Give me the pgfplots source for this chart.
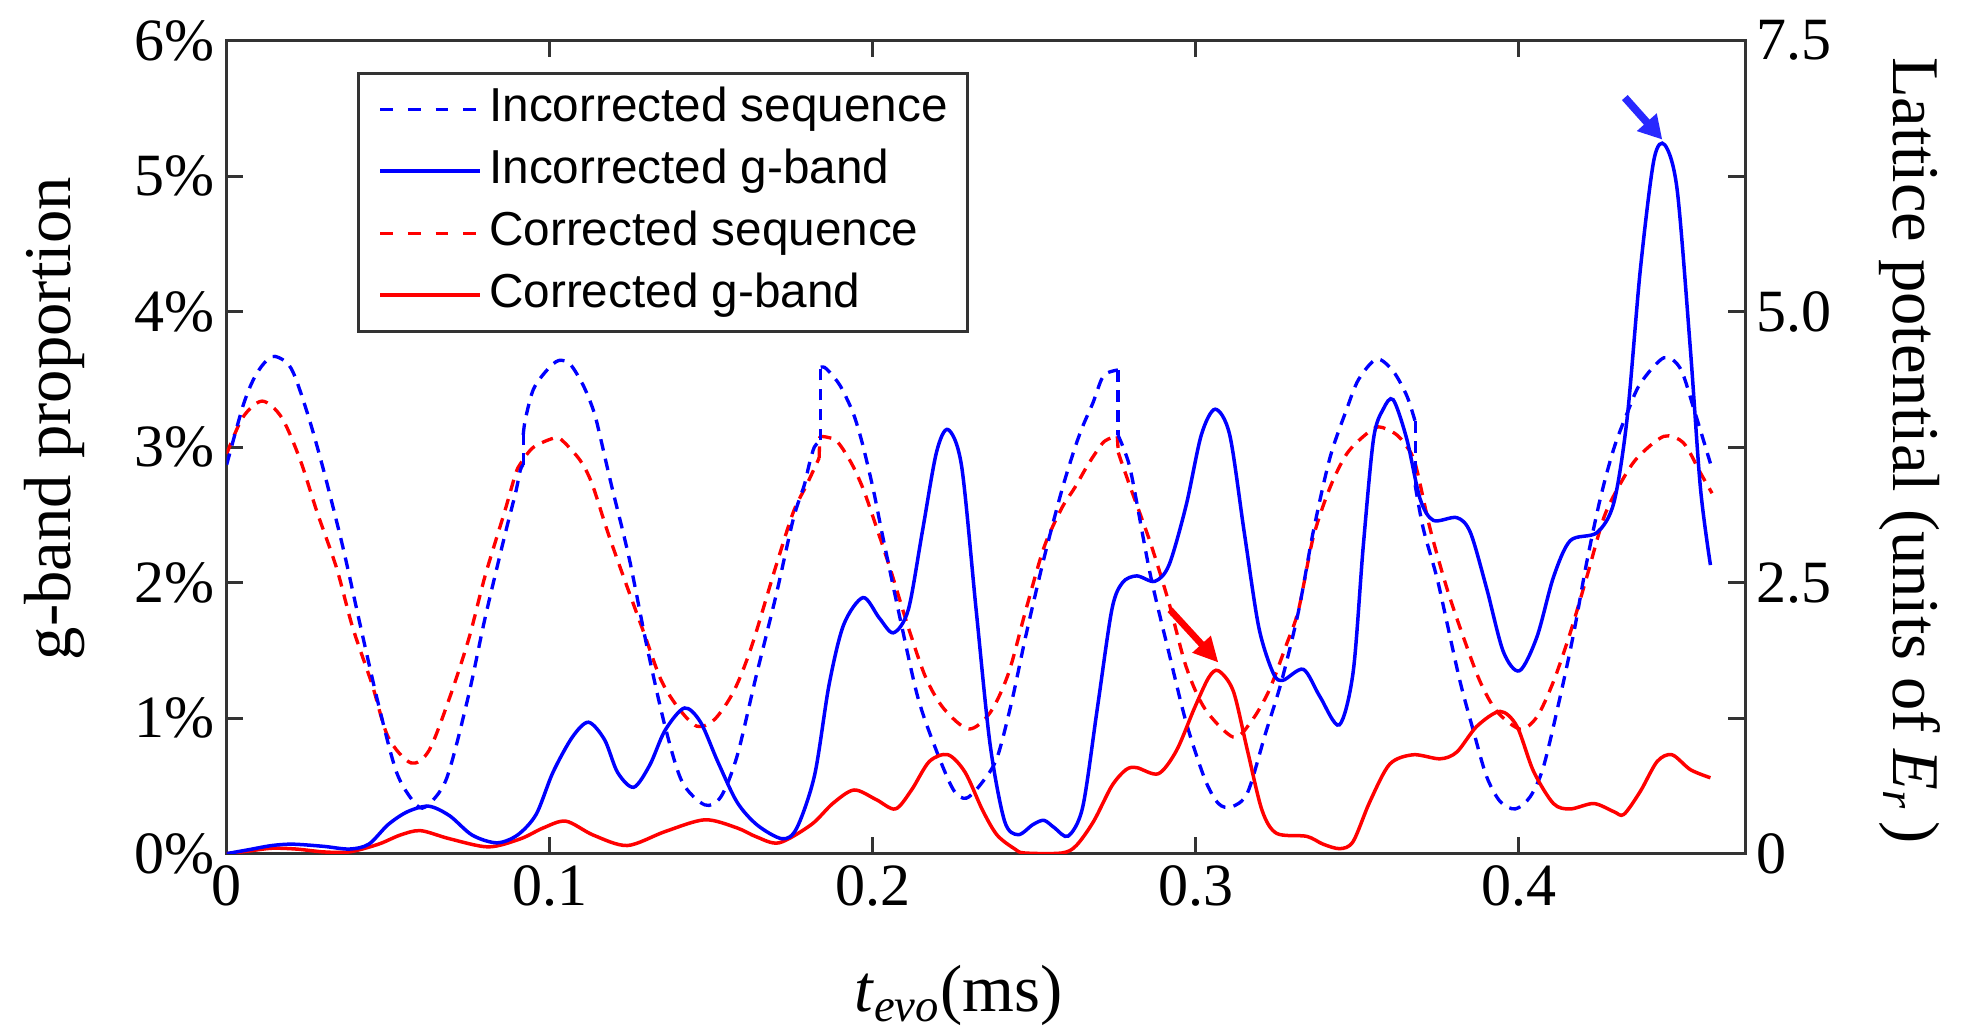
\documentclass[border=0pt]{standalone}
\usepackage{fontspec}
\setmainfont{Liberation Serif}
\newfontfamily\legendfont{Liberation Sans}
\usepackage{pgfplots}
\pgfplotsset{compat=1.18}
\usetikzlibrary{arrows.meta}
\definecolor{axgray}{RGB}{51,51,51}
\definecolor{arrowblue}{RGB}{40,40,255}
\pgfplotsset{
  bdash/.style={blue, line width=1pt, dash pattern=on 3.5pt off 2.5pt, smooth, tension=0.5, forget plot},
  rdash/.style={red, line width=1pt, dash pattern=on 3.5pt off 2.5pt, smooth, tension=0.5, forget plot},
  bvert/.style={blue, line width=1pt, dash pattern=on 3.5pt off 2.5pt, forget plot},
  rvert/.style={red, line width=1pt, dash pattern=on 3.5pt off 2.5pt, forget plot},
  bsol/.style={blue, line width=1.05pt, smooth, tension=0.5, forget plot},
  rsol/.style={red, line width=1.05pt, smooth, tension=0.5, forget plot},
}
\begin{document}
\begin{tikzpicture}
\useasboundingbox (-68.0pt,-54.4pt) rectangle (523.9pt,256.1pt);
\begin{axis}[
  at={(0,0)}, anchor=south west,
  width=455.5pt, height=243.9pt, scale only axis,
  xmin=0, xmax=0.47, ymin=0, ymax=6,
  axis line style={axgray, line width=0.9pt},
  every tick/.style={axgray, line width=0.9pt},
  major tick length=5pt,
  xtick={0,0.1,0.2,0.3,0.4}, xticklabels={0,0.1,0.2,0.3,0.4},
  ytick={0,1,2,3,4,5,6}, yticklabels={0\%,1\%,2\%,3\%,4\%,5\%,6\%},
  tick label style={font=\fontsize{18}{20}\selectfont},
  xlabel={\textit{t}\textsubscript{\textit{evo}}(ms)},
  ylabel={g-band proportion},
  label style={font=\fontsize{20}{24}\selectfont},
  xlabel style={at={(axis description cs:0.482,-0.1743)}, anchor=center},
  ylabel style={at={(axis description cs:-0.1131,0.535)}, anchor=center},
  legend cell align=left,
  legend image code/.code={\draw[#1] (0pt,0pt) -- (30pt,0pt);},
  legend style={at={(axis description cs:0.0858,0.962)}, anchor=north west,
    draw=axgray, line width=0.9pt,
    font=\legendfont\fontsize{14.3}{17}\selectfont,
    inner xsep=6pt, inner ysep=3.6pt, row sep=4.1pt, column sep=2.2pt,
    nodes={inner sep=0pt, text height=11pt, text depth=3.5pt}},
]
\addlegendimage{blue, line width=1pt, dash pattern=on 3.8pt off 4.5pt}
\addlegendentry{Incorrected sequence}
\addlegendimage{blue, line width=1.05pt}
\addlegendentry{Incorrected g-band}
\addlegendimage{red, line width=1pt, dash pattern=on 3.8pt off 4.5pt}
\addlegendentry{Corrected sequence}
\addlegendimage{red, line width=1.05pt}
\addlegendentry{Corrected g-band}

% Corrected sequence (red dashed)
\addplot[rdash] coordinates {(0,2.95)(0.005,3.22)(0.011,3.34)(0.017,3.22)(0.0227,2.91)(0.028,2.52)(0.034,2.11)(0.039,1.67)(0.045,1.25)(0.050,0.86)(0.057,0.67)(0.0626,0.76)(0.069,1.15)(0.075,1.59)(0.080,2.05)(0.086,2.52)(0.0894,2.80)(0.091,2.88)(0.095,3.00)(0.1018,3.07)(0.1043,3.04)(0.1095,2.90)(0.1131,2.73)(0.118,2.37)(0.1235,2.00)(0.129,1.64)(0.1345,1.28)(0.140,1.07)(0.1456,0.94)(0.151,0.99)(0.157,1.20)(0.1625,1.53)(0.170,2.12)(0.1754,2.52)(0.1795,2.72)(0.1834,2.92)};
\addplot[rvert] coordinates {(0.1834,2.92)(0.1836,3.08)};
\addplot[rdash] coordinates {(0.1836,3.08)(0.1886,3.05)(0.1932,2.89)(0.1969,2.70)(0.200,2.49)(0.2053,2.11)(0.211,1.67)(0.2164,1.30)(0.222,1.07)(0.2297,0.92)(0.2363,1.04)(0.242,1.33)(0.2474,1.80)(0.253,2.26)(0.2585,2.55)(0.2625,2.70)(0.2666,2.87)(0.2708,3.02)(0.2729,3.06)(0.2757,3.08)};
\addplot[rvert] coordinates {(0.2757,3.08)(0.2760,2.96)};
\addplot[rdash] coordinates {(0.2760,2.96)(0.277,2.89)(0.2801,2.68)(0.286,2.29)(0.2917,1.85)(0.297,1.38)(0.3028,1.07)(0.3116,0.86)(0.317,0.97)(0.3226,1.20)(0.328,1.54)(0.3318,1.80)(0.3363,2.33)(0.3415,2.70)(0.3467,2.95)(0.3524,3.09)(0.3566,3.15)(0.3617,3.10)(0.3648,3.02)(0.3679,2.88)(0.3725,2.40)(0.3777,1.96)(0.3828,1.60)(0.388,1.27)(0.3932,1.05)(0.4004,0.92)(0.4056,1.01)(0.4107,1.27)(0.4159,1.63)(0.421,2.04)(0.4263,2.48)(0.4314,2.73)(0.4366,2.92)(0.4449,3.08)(0.451,3.03)(0.4562,2.81)(0.4598,2.66)};

% Incorrected sequence (blue dashed)
\addplot[bdash] coordinates {(0,2.87)(0.005,3.30)(0.0083,3.50)(0.0116,3.62)(0.015,3.67)(0.020,3.58)(0.025,3.25)(0.030,2.83)(0.036,2.26)(0.0415,1.67)(0.047,1.10)(0.0526,0.60)(0.058,0.38)(0.0615,0.345)(0.068,0.55)(0.0747,1.15)(0.080,1.74)(0.086,2.34)(0.0894,2.66)(0.0909,2.83)(0.0918,2.87)};
\addplot[bvert] coordinates {(0.0918,2.87)(0.0918,3.09)};
\addplot[bdash] coordinates {(0.0918,3.09)(0.0925,3.21)(0.095,3.43)(0.0992,3.57)(0.1028,3.64)(0.1064,3.61)(0.1105,3.45)(0.1137,3.26)(0.1157,3.07)(0.119,2.73)(0.1246,2.18)(0.130,1.54)(0.1357,0.94)(0.141,0.53)(0.148,0.36)(0.153,0.42)(0.158,0.72)(0.1638,1.30)(0.170,1.90)(0.1754,2.47)(0.1788,2.72)(0.1803,2.87)(0.1819,3.00)(0.1839,3.05)};
\addplot[bvert] coordinates {(0.1839,3.05)(0.1839,3.59)};
\addplot[bdash] coordinates {(0.1839,3.59)(0.185,3.59)(0.1868,3.55)(0.190,3.45)(0.1938,3.26)(0.1963,3.07)(0.1984,2.87)(0.2005,2.65)(0.2031,2.34)(0.2086,1.72)(0.214,1.15)(0.2197,0.76)(0.225,0.47)(0.229,0.41)(0.234,0.53)(0.2385,0.71)(0.243,1.12)(0.2474,1.61)(0.253,2.18)(0.2585,2.68)(0.2625,2.99)(0.2651,3.16)(0.2682,3.33)(0.2708,3.50)(0.2728,3.55)(0.2759,3.57)};
\addplot[bvert] coordinates {(0.2759,3.57)(0.2759,3.09)};
\addplot[bdash] coordinates {(0.2759,3.09)(0.2775,3.00)(0.2795,2.86)(0.2815,2.62)(0.286,2.05)(0.2917,1.48)(0.297,0.97)(0.3028,0.55)(0.307,0.37)(0.311,0.345)(0.316,0.45)(0.3216,0.89)(0.3265,1.27)(0.3318,1.79)(0.3363,2.37)(0.3415,2.92)(0.3467,3.28)(0.3504,3.50)(0.356,3.65)(0.3611,3.56)(0.3653,3.38)(0.3679,3.19)};
\addplot[bvert] coordinates {(0.3679,3.19)(0.3679,2.72)};
\addplot[bdash] coordinates {(0.3679,2.72)(0.3704,2.40)(0.3746,2.04)(0.3777,1.71)(0.3818,1.27)(0.386,0.90)(0.39,0.57)(0.3942,0.385)(0.3989,0.33)(0.4035,0.42)(0.4076,0.64)(0.4128,1.16)(0.417,1.63)(0.421,2.15)(0.4252,2.62)(0.4294,2.99)(0.4335,3.25)(0.4376,3.47)(0.4449,3.66)(0.45,3.58)(0.4542,3.28)(0.4593,2.88)};

% Corrected g-band (red solid)
\addplot[rsol] coordinates {(0,0)(0.007,0.02)(0.014,0.04)(0.0216,0.034)(0.030,0.013)(0.038,0.013)(0.047,0.07)(0.0537,0.137)(0.060,0.17)(0.069,0.11)(0.081,0.05)(0.091,0.11)(0.098,0.19)(0.105,0.24)(0.1135,0.137)(0.124,0.06)(0.1357,0.163)(0.148,0.25)(0.158,0.19)(0.164,0.124)(0.171,0.08)(0.181,0.215)(0.1876,0.37)(0.1942,0.47)(0.201,0.40)(0.207,0.33)(0.212,0.47)(0.2175,0.68)(0.2233,0.73)(0.2286,0.60)(0.234,0.32)(0.2385,0.137)(0.244,0.034)(0.247,0.005)(0.2585,0.005)(0.263,0.06)(0.2684,0.24)(0.274,0.50)(0.2784,0.62)(0.2817,0.635)(0.2884,0.59)(0.294,0.76)(0.2995,1.07)(0.304,1.30)(0.307,1.35)(0.3116,1.20)(0.316,0.76)(0.3205,0.32)(0.325,0.15)(0.3343,0.128)(0.3394,0.07)(0.3446,0.037)(0.3487,0.09)(0.3539,0.385)(0.36,0.66)(0.3673,0.73)(0.3756,0.70)(0.3808,0.75)(0.387,0.94)(0.3942,1.05)(0.3994,0.94)(0.4045,0.61)(0.4107,0.37)(0.4159,0.33)(0.4232,0.37)(0.4294,0.31)(0.4325,0.29)(0.4376,0.46)(0.4428,0.68)(0.4474,0.73)(0.4531,0.62)(0.4593,0.56)};

% Incorrected g-band (blue solid)
\addplot[bsol] coordinates {(0,0)(0.007,0.03)(0.014,0.06)(0.0205,0.07)(0.030,0.054)(0.038,0.034)(0.044,0.07)(0.050,0.215)(0.056,0.31)(0.0626,0.35)(0.069,0.28)(0.076,0.137)(0.0836,0.08)(0.090,0.137)(0.0958,0.29)(0.101,0.60)(0.107,0.86)(0.112,0.97)(0.117,0.84)(0.121,0.60)(0.126,0.49)(0.131,0.655)(0.1357,0.91)(0.1417,1.075)(0.1467,0.97)(0.152,0.68)(0.158,0.38)(0.1643,0.21)(0.172,0.11)(0.1765,0.19)(0.182,0.58)(0.1865,1.25)(0.191,1.69)(0.197,1.89)(0.202,1.74)(0.2064,1.63)(0.211,1.80)(0.2153,2.37)(0.2197,2.96)(0.2233,3.13)(0.2275,2.86)(0.232,1.80)(0.2363,0.81)(0.2408,0.24)(0.245,0.14)(0.2496,0.215)(0.253,0.246)(0.2563,0.19)(0.2605,0.13)(0.265,0.345)(0.2695,1.07)(0.274,1.80)(0.2773,2.00)(0.2817,2.05)(0.2873,2.01)(0.2917,2.13)(0.297,2.57)(0.3017,3.09)(0.306,3.28)(0.3105,3.09)(0.315,2.37)(0.3195,1.67)(0.324,1.33)(0.327,1.28)(0.3333,1.36)(0.3384,1.16)(0.3444,0.95)(0.3487,1.34)(0.3518,2.26)(0.355,3.06)(0.358,3.28)(0.3611,3.35)(0.3653,3.06)(0.3694,2.62)(0.3735,2.46)(0.3808,2.48)(0.385,2.37)(0.39,1.96)(0.3952,1.49)(0.4002,1.35)(0.4056,1.60)(0.4107,2.04)(0.4159,2.31)(0.4242,2.37)(0.4294,2.59)(0.4335,3.21)(0.4376,4.31)(0.4418,5.12)(0.4452,5.23)(0.449,4.90)(0.4531,3.72)(0.4562,2.70)(0.4593,2.13)};

% annotation arrows
\draw[arrowblue, line width=2.3pt, -{Triangle[length=7pt,width=7.5pt]}] (axis cs:0.4328,5.58) -- (axis cs:0.4444,5.27);
\draw[red, line width=2pt, -{Triangle[length=7.5pt,width=7pt]}] (axis cs:0.2920,1.80) -- (axis cs:0.3070,1.41);
\end{axis}
\begin{axis}[
  at={(0,0)}, anchor=south west,
  width=455.5pt, height=243.9pt, scale only axis,
  xmin=0, xmax=0.47, ymin=0, ymax=7.5,
  axis x line=none, axis y line*=right,
  axis line style={axgray, line width=0.9pt},
  every tick/.style={axgray, line width=0.9pt},
  major tick length=5pt,
  ytick={0,2.5,5,7.5}, yticklabels={0,2.5,5.0,7.5},
  tick label style={font=\fontsize{18}{20}\selectfont},
  ylabel={Lattice potential (units of \textit{E}\textsubscript{\textit{r}}\,)},
  label style={font=\fontsize{20}{24}\selectfont},
  ylabel style={at={(axis description cs:1.1085,0.496)}, anchor=center, rotate=180},
]
\end{axis}
\end{tikzpicture}
\end{document}
